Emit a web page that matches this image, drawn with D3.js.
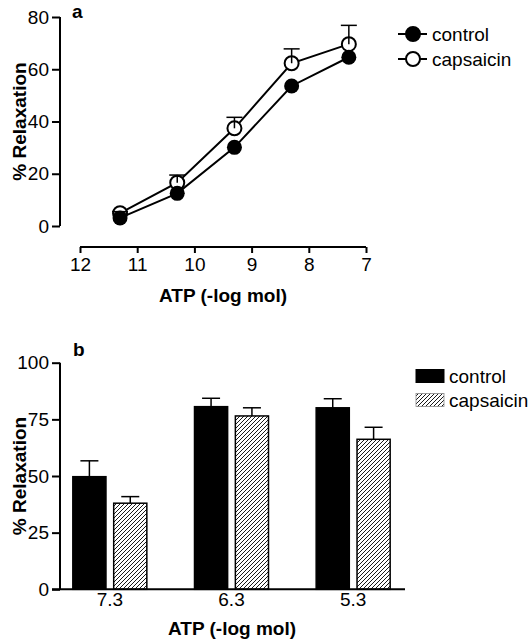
<!DOCTYPE html>
<html><head><meta charset="utf-8">
<script src="https://cdn.jsdelivr.net/npm/d3@7"></script>
<style>body{margin:0;background:#fff}svg{display:block}text{font-family:"Liberation Sans",Arial,sans-serif;fill:#000}</style>
</head><body><svg id="c" width="529" height="640"></svg>
<script>
// ---- Panel a data
const doseA = [11.3, 10.3, 9.3, 8.3, 7.3];
const controlA = [3.1, 12.5, 30.1, 53.6, 64.6];
const capsaicinA = [4.9, 16.6, 37.4, 62.3, 69.6];
const capsaicinAErr = [0.6, 2.9, 4.2, 5.5, 7.2];
const xTicksA = [12, 11, 10, 9, 8, 7];
const yTicksA = [0, 20, 40, 60, 80];
// ---- Panel b data
const doseB = ["7.3", "6.3", "5.3"];
const controlB = [49.7, 80.6, 80.1];
const controlBErr = [7.0, 3.7, 4.0];
const capsaicinB = [38.0, 76.5, 66.2];
const capsaicinBErr = [2.9, 3.6, 5.3];
const yTicksB = [0, 25, 50, 75, 100];
const seriesNames = ["control", "capsaicin"];

const svg = d3.select("#c");
const FS = 19;
const defs = svg.append("defs");
const pat = defs.append("pattern").attr("id","hatch").attr("patternUnits","userSpaceOnUse")
  .attr("width",4).attr("height",4);
pat.append("rect").attr("width",4).attr("height",4).attr("fill","#fff");
pat.append("path").attr("d","M-1,1 l2,-2 M0,4 l4,-4 M3,5 l2,-2").attr("stroke","#000").attr("stroke-width",0.9);

// ================= Panel a =================
const xA = d3.scaleLinear().domain([12, 7]).range([80, 366]);
const yA = d3.scaleLinear().domain([0, 80]).range([226, 17]);
const gA = svg.append("g");

const yAxA = gA.append("g").attr("transform","translate(60,0)")
  .call(d3.axisLeft(yA).tickValues(yTicksA).tickFormat(d3.format("d")).tickSize(8).tickPadding(3));
const xAxA = gA.append("g").attr("transform","translate(0,247)")
  .call(d3.axisBottom(xA).tickValues(xTicksA).tickFormat(d3.format("d")).tickSize(6).tickPadding(5));
[yAxA, xAxA].forEach(ax => {
  ax.select(".domain").attr("stroke","#000").attr("stroke-width",2);
  ax.selectAll(".tick line").attr("stroke","#000").attr("stroke-width",2);
  ax.selectAll(".tick text").attr("font-size",FS).attr("font-family","Liberation Sans, Arial, sans-serif").attr("fill","#000");
});
yAxA.select(".domain").attr("d","M0," + yA(0) + "V" + yA(80));
xAxA.select(".domain").attr("d","M" + xA(12) + ",0H" + xA(7));

gA.append("text").attr("transform","translate(21," + ((yA(0)+yA(80))/2) + ") rotate(-90)")
  .attr("text-anchor","middle").attr("dominant-baseline","middle").attr("font-weight","bold").attr("font-size",FS).text("% Relaxation");
gA.append("text").attr("x",223).attr("y",302).attr("text-anchor","middle").attr("font-weight","bold").attr("font-size",FS).text("ATP (-log mol)");
gA.append("text").attr("x",72).attr("y",18).attr("font-weight","bold").attr("font-size",FS).text("a");

const line = d3.line().x(d => xA(d[0])).y(d => yA(d[1]));
const capsPts = doseA.map((d,i)=>[d, capsaicinA[i]]);
const ctrlPts = doseA.map((d,i)=>[d, controlA[i]]);
gA.append("path").attr("d", line(capsPts)).attr("fill","none").attr("stroke","#000").attr("stroke-width",2);
gA.append("path").attr("d", line(ctrlPts)).attr("fill","none").attr("stroke","#000").attr("stroke-width",2);
gA.selectAll(".capc").data(capsPts).join("circle").attr("cx",d=>xA(d[0])).attr("cy",d=>yA(d[1]))
  .attr("r",7).attr("fill","#fff").attr("stroke","#000").attr("stroke-width",2);
doseA.forEach((d,i)=>{
  const x = xA(d), y0 = yA(capsaicinA[i]), y1 = yA(capsaicinA[i]+capsaicinAErr[i]);
  gA.append("line").attr("x1",x).attr("x2",x).attr("y1",y0).attr("y2",y1).attr("stroke","#000").attr("stroke-width",1.5);
  gA.append("line").attr("x1",x-8).attr("x2",x+8).attr("y1",y1).attr("y2",y1).attr("stroke","#000").attr("stroke-width",1.5);
});
gA.selectAll(".ctrlc").data(ctrlPts).join("circle").attr("cx",d=>xA(d[0])).attr("cy",d=>yA(d[1]))
  .attr("r",7.5).attr("fill","#000");

const legA = gA.append("g");
seriesNames.forEach((n,i)=>{
  const y = 34 + i*25;
  legA.append("line").attr("x1",398).attr("x2",427).attr("y1",y).attr("y2",y).attr("stroke","#000").attr("stroke-width",2);
  legA.append("circle").attr("cx",413).attr("cy",y).attr("r",7).attr("fill", i===0?"#000":"#fff").attr("stroke","#000").attr("stroke-width",2);
  legA.append("text").attr("x",432).attr("y",y).attr("dominant-baseline","central").attr("font-size",FS).text(n);
});

// ================= Panel b =================
const xB = d3.scaleBand().domain(doseB).range([49, 414]);
const sub = d3.scaleBand().domain(seriesNames).range([0, 74]).paddingInner(14/74);
const yB = d3.scaleLinear().domain([0, 100]).range([589.3, 362.7]);
const gB = svg.append("g");

const barsData = [];
doseB.forEach((d,i)=>{
  barsData.push({dose:d, s:"control", v:controlB[i], e:controlBErr[i]});
  barsData.push({dose:d, s:"capsaicin", v:capsaicinB[i], e:capsaicinBErr[i]});
});
const bx = d => xB(d.dose) + xB.bandwidth()/2 - 37 + sub(d.s);
barsData.forEach(d=>{
  const x = bx(d) + sub.bandwidth()/2, y0 = yB(d.v), y1 = yB(d.v + d.e);
  gB.append("line").attr("x1",x).attr("x2",x).attr("y1",y0).attr("y2",y1).attr("stroke","#000").attr("stroke-width",1.5);
  gB.append("line").attr("x1",x-9).attr("x2",x+9).attr("y1",y1).attr("y2",y1).attr("stroke","#000").attr("stroke-width",1.5);
});
gB.selectAll(".bar").data(barsData).join("rect")
  .attr("x", bx).attr("y", d=>yB(d.v)).attr("width", sub.bandwidth()).attr("height", d=>yB(0)-yB(d.v))
  .attr("fill", d => d.s==="control" ? "#000" : "url(#hatch)").attr("stroke","#000").attr("stroke-width",1.5);

const yAxB = gB.append("g").attr("transform","translate(60,0)")
  .call(d3.axisLeft(yB).tickValues(yTicksB).tickSize(8).tickPadding(3));
const xAxB = gB.append("g").attr("transform","translate(0," + yB(0) + ")")
  .call(d3.axisBottom(xB).tickSize(0).tickPadding(3));
[yAxB, xAxB].forEach(ax => {
  ax.select(".domain").attr("stroke","#000").attr("stroke-width",2);
  ax.selectAll(".tick line").attr("stroke","#000").attr("stroke-width",2);
  ax.selectAll(".tick text").attr("font-size",FS).attr("font-family","Liberation Sans, Arial, sans-serif").attr("fill","#000");
});
yAxB.select(".domain").attr("d","M0," + yB(0) + "V" + yB(100));
xAxB.select(".domain").attr("d","M52,0H405");

gB.append("text").attr("transform","translate(21," + ((yB(0)+yB(100))/2) + ") rotate(-90)")
  .attr("text-anchor","middle").attr("dominant-baseline","middle").attr("font-weight","bold").attr("font-size",FS).text("% Relaxation");
gB.append("text").attr("x",232).attr("y",635).attr("text-anchor","middle").attr("font-weight","bold").attr("font-size",FS).text("ATP (-log mol)");
gB.append("text").attr("x",73).attr("y",356).attr("font-weight","bold").attr("font-size",FS).text("b");

const legB = gB.append("g");
seriesNames.forEach((n,i)=>{
  const y = 376 + i*24;
  legB.append("rect").attr("x",416).attr("y",y-6.5).attr("width",28).attr("height",13)
    .attr("fill", i===0?"#000":"url(#hatch)").attr("stroke", i===0?"#000":"#888").attr("stroke-width",i===0?1:0.8);
  legB.append("text").attr("x",449).attr("y",y).attr("dominant-baseline","central").attr("font-size",FS).text(n);
});
</script></body></html>
